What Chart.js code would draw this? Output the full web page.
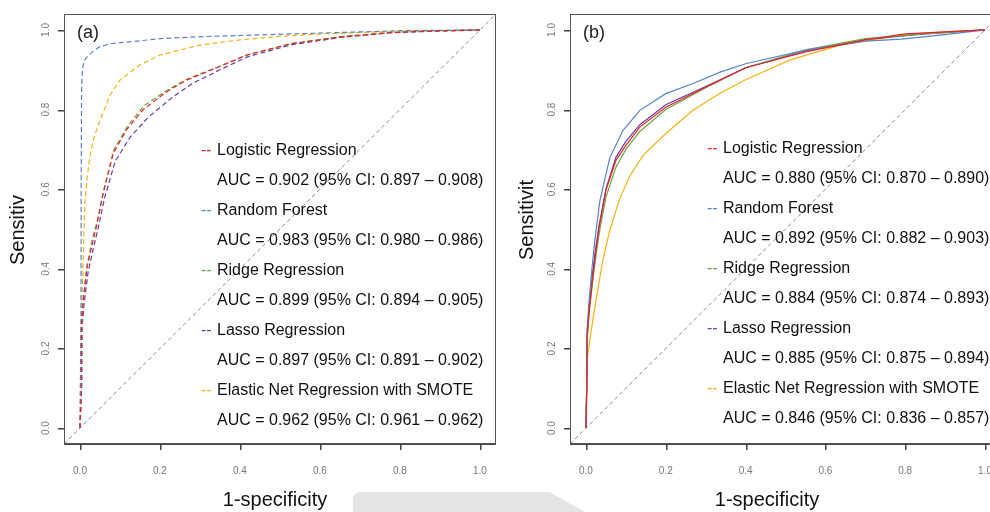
<!DOCTYPE html>
<html><head><meta charset="utf-8">
<script src="https://cdn.jsdelivr.net/npm/chart.js@4"></script>
<style>
html,body{margin:0;padding:0;background:#fff;overflow:hidden;width:990px;height:512px;}
#shade{position:absolute;left:353px;top:492px;width:232px;height:20px;background:#e4e4e4;border-top-left-radius:7px;clip-path:polygon(0 0,196px 0,232px 20px,0 20px);}
#wrapA{position:absolute;left:0;top:0;}
#wrapB{position:absolute;left:500px;top:0;}
canvas{display:block;}
</style>
</head><body>
<div id="shade"></div>
<div id="wrapA"><canvas id="cA" width="500" height="512"></canvas></div>
<div id="wrapB"><canvas id="cB" width="510" height="512"></canvas></div>
<script>
const tickVals = [0, 0.2, 0.4, 0.6, 0.8, 1.0];
const models = ['Logistic Regression','Random Forest','Ridge Regression','Lasso Regression','Elastic Net Regression with SMOTE'];
const modelColors = ['#e8222c','#5784c8','#6aa83c','#6a3aa6','#f4b214'];
const aucA = ['AUC = 0.902 (95% CI: 0.897 \u2013 0.908)','AUC = 0.983 (95% CI: 0.980 \u2013 0.986)','AUC = 0.899 (95% CI: 0.894 \u2013 0.905)','AUC = 0.897 (95% CI: 0.891 \u2013 0.902)','AUC = 0.962 (95% CI: 0.961 \u2013 0.962)'];
const aucB = ['AUC = 0.880 (95% CI: 0.870 \u2013 0.890)','AUC = 0.892 (95% CI: 0.882 \u2013 0.903)','AUC = 0.884 (95% CI: 0.874 \u2013 0.893)','AUC = 0.885 (95% CI: 0.875 \u2013 0.894)','AUC = 0.846 (95% CI: 0.836 \u2013 0.857)'];

const fprA_LR = [0,0.004,0.004,0.008,0.017,0.03,0.042,0.058,0.083,0.117,0.158,0.217,0.267,0.342,0.417,0.525,0.65,0.775,0.85,1];
const tprA_LR = [0,0.10,0.26,0.32,0.40,0.46,0.51,0.59,0.69,0.75,0.80,0.845,0.874,0.905,0.937,0.965,0.982,0.993,0.996,1];
const fprA_RF = [0,0.0025,0.003,0.004,0.006,0.01,0.02,0.035,0.05,0.075,0.1,0.143,0.2,0.3,0.4,0.5,0.6,0.7,0.8,0.9,1];
const tprA_RF = [0,0.30,0.60,0.85,0.90,0.922,0.935,0.948,0.958,0.965,0.968,0.972,0.978,0.983,0.986,0.989,0.992,0.995,0.998,0.999,1];
const fprA_RR = [0,0.004,0.005,0.009,0.018,0.03,0.043,0.06,0.085,0.12,0.16,0.22,0.27,0.345,0.42,0.53,0.65,0.78,0.86,1];
const tprA_RR = [0,0.12,0.27,0.33,0.41,0.47,0.52,0.60,0.70,0.76,0.81,0.85,0.878,0.907,0.938,0.966,0.983,0.994,0.997,1];
const fprA_LA = [0,0.004,0.005,0.01,0.02,0.033,0.045,0.062,0.088,0.125,0.17,0.23,0.28,0.35,0.42,0.53,0.65,0.78,0.86,1];
const tprA_LA = [0,0.10,0.25,0.31,0.39,0.45,0.50,0.58,0.67,0.73,0.78,0.83,0.865,0.90,0.933,0.963,0.981,0.993,0.996,1];
const fprA_EN = [0,0.003,0.005,0.008,0.01,0.0125,0.018,0.025,0.035,0.05,0.075,0.1,0.15,0.2,0.3,0.4,0.5,0.6,0.8,1];
const tprA_EN = [0,0.20,0.33,0.42,0.50,0.57,0.63,0.685,0.73,0.773,0.836,0.874,0.912,0.937,0.962,0.975,0.984,0.99,0.997,1];

const fprB_LR = [0,0.002,0.003,0.008,0.017,0.025,0.033,0.05,0.075,0.1,0.135,0.2,0.286,0.4,0.55,0.7,0.8,0.9,1];
const tprB_LR = [0,0.10,0.23,0.295,0.378,0.446,0.504,0.597,0.672,0.71,0.756,0.806,0.849,0.905,0.945,0.975,0.99,0.995,1];
const fprB_RF = [0,0.002,0.003,0.007,0.015,0.022,0.035,0.06,0.093,0.135,0.2,0.27,0.336,0.4,0.553,0.7,0.79,0.9,1];
const tprB_RF = [0,0.12,0.25,0.31,0.40,0.47,0.572,0.68,0.748,0.798,0.84,0.866,0.894,0.915,0.95,0.972,0.977,0.988,1];
const fprB_RR = [0,0.002,0.003,0.008,0.017,0.026,0.035,0.05,0.075,0.1,0.135,0.2,0.3,0.4,0.55,0.7,0.85,1];
const tprB_RR = [0,0.10,0.22,0.29,0.37,0.44,0.50,0.58,0.655,0.70,0.745,0.80,0.855,0.905,0.95,0.978,0.99,1];
const fprB_LA = [0,0.002,0.003,0.008,0.016,0.024,0.033,0.05,0.075,0.1,0.135,0.2,0.3,0.4,0.55,0.7,0.85,1];
const tprB_LA = [0,0.11,0.24,0.30,0.385,0.45,0.51,0.60,0.68,0.72,0.762,0.812,0.858,0.905,0.947,0.976,0.99,1];
const fprB_EN = [0,0.002,0.004,0.012,0.025,0.042,0.058,0.083,0.108,0.143,0.2,0.268,0.336,0.4,0.51,0.637,0.8,0.9,1];
const tprB_EN = [0,0.10,0.18,0.237,0.32,0.42,0.49,0.572,0.63,0.685,0.74,0.798,0.841,0.875,0.924,0.962,0.988,0.995,1];

const diagX = [-0.04, 1.04];
const diagY = [-0.04, 1.04];

const FONT = "'Liberation Sans', Arial, Helvetica, sans-serif";
const pts = (xs, ys) => xs.map((x, i) => ({x, y: ys[i]}));

function buildDatasets(curves, dashed) {
  const ds = curves.map((c, i) => ({
    data: pts(c[0], c[1]),
    borderColor: modelColors[i],
    borderWidth: 1.2,
    borderDash: dashed ? [5, 3] : [],
    showLine: true, pointRadius: 0, tension: 0, fill: false
  }));
  ds.push({data: pts(diagX, diagY), borderColor: '#8a8a8a', borderWidth: 1, borderDash: [4, 3], showLine: true, pointRadius: 0});
  return ds;
}

function decorPlugin(cfg) {
  return {
    id: 'decor' + cfg.letter,
    afterDraw(chart) {
      const ctx = chart.ctx, a = chart.chartArea, ys = chart.scales.y, xs = chart.scales.x;
      ctx.save();
      ctx.strokeStyle = '#555'; ctx.lineWidth = 1;
      ctx.strokeRect(Math.round(a.left) + 0.5, Math.round(a.top) + 0.5, Math.round(a.right - a.left) - 1, Math.round(a.bottom - a.top) - 1);
      // tick marks
      ctx.fillStyle = '#444';
      tickVals.forEach(v => {
        const x = Math.round(xs.getPixelForValue(v));
        ctx.fillRect(x, Math.round(a.bottom), 1.5, 6);
        const y = Math.round(ys.getPixelForValue(v));
        ctx.fillRect(Math.round(a.left) - 6, y, 6, 1.5);
      });
      ctx.fillStyle = '#777'; ctx.font = '10px ' + FONT;
      ctx.textAlign = 'center'; ctx.textBaseline = 'middle';
      tickVals.forEach(v => {
        const y = ys.getPixelForValue(v);
        ctx.save(); ctx.translate(cfg.yLabX, y); ctx.rotate(-Math.PI / 2);
        ctx.fillText(v.toFixed(1), 0, 0); ctx.restore();
      });
      ctx.fillStyle = '#111'; ctx.font = '20px ' + FONT;
      ctx.fillText('1-specificity', cfg.xTitleX, 500);
      ctx.save(); ctx.translate(cfg.yTitleX, cfg.yTitleY); ctx.rotate(-Math.PI / 2);
      ctx.fillText(cfg.yTitle, 0, 0); ctx.restore();
      ctx.textAlign = 'left'; ctx.font = '18px ' + FONT; ctx.fillStyle = '#222';
      ctx.fillText('(' + cfg.letter + ')', cfg.letterX, 33);
      ctx.font = '16px ' + FONT;
      models.forEach((m, i) => {
        const y0 = cfg.legTop + i * 60;
        ctx.fillStyle = modelColors[i];
        ctx.fillText('--', cfg.dashX, y0);
        ctx.fillStyle = '#111';
        ctx.fillText(m, cfg.textX, y0);
        ctx.fillText(cfg.auc[i], cfg.textX, y0 + 30);
      });
      ctx.restore();
    }
  };
}

function makeChart(id, datasets, cfg) {
  return new Chart(document.getElementById(id), {
    type: 'scatter',
    data: {datasets},
    options: {
      responsive: false, animation: false, devicePixelRatio: 1,
      layout: {padding: {top: 14, right: cfg.padRight, left: 0, bottom: 0}},
      plugins: {legend: {display: false}, tooltip: {enabled: false}},
      scales: {
        x: {
          type: 'linear', min: -0.04, max: 1.04,
          afterBuildTicks: s => { s.ticks = tickVals.map(v => ({value: v})); },
          afterFit: s => { s.height = 68; },
          grid: {display: false},
          border: {display: true, color: '#444'},
          ticks: {color: '#777', font: {size: 10, family: FONT}, padding: 13, maxRotation: 0, autoSkip: false, callback: v => Number(v).toFixed(1)}
        },
        y: {
          type: 'linear', min: -0.04, max: 1.04,
          afterBuildTicks: s => { s.ticks = tickVals.map(v => ({value: v})); },
          afterFit: s => { s.width = cfg.yWidth; },
          grid: {display: false},
          border: {display: true, color: '#555'},
          ticks: {color: 'rgba(0,0,0,0)', font: {size: 10, family: FONT}, autoSkip: false}
        }
      }
    },
    plugins: [decorPlugin(cfg)]
  });
}

const curvesA = [[fprA_LR, tprA_LR], [fprA_RF, tprA_RF], [fprA_RR, tprA_RR], [fprA_LA, tprA_LA], [fprA_EN, tprA_EN]];
const curvesB = [[fprB_LR, tprB_LR], [fprB_RF, tprB_RF], [fprB_RR, tprB_RR], [fprB_LA, tprB_LA], [fprB_EN, tprB_EN]];

makeChart('cA', buildDatasets(curvesA, true), {
  letter: 'a', padRight: 4, yWidth: 64, yLabX: 46, xTitleX: 275, yTitleX: 18, yTitleY: 230,
  yTitle: 'Sensitiv', letterX: 77, legTop: 151, dashX: 201, textX: 217, auc: aucA
});
makeChart('cB', buildDatasets(curvesB, false), {
  letter: 'b', padRight: 9, yWidth: 70, yLabX: 52, xTitleX: 267, yTitleX: 27, yTitleY: 220,
  yTitle: 'Sensitivit', letterX: 83, legTop: 149, dashX: 207, textX: 223, auc: aucB
});
</script>
</body></html>
